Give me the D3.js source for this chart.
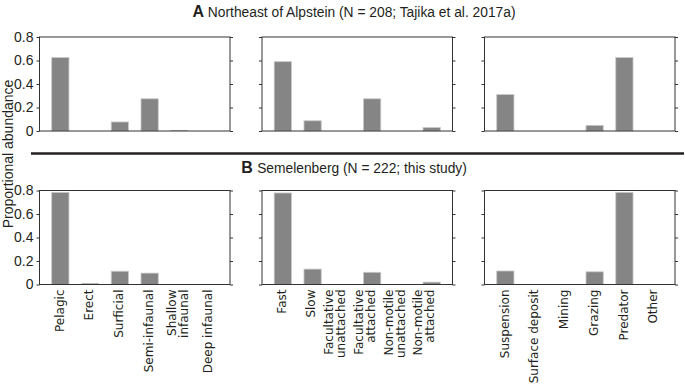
<!DOCTYPE html>
<html>
<head>
<meta charset="utf-8">
<script src="https://cdn.jsdelivr.net/npm/d3@7"></script>
<style>
  body { margin: 0; background: #fff; }
  svg { display: block; }
</style>
</head>
<body>
<div id="chart"></div>
<script>
// categories (\n = line break in the axis label)
const lifeHabit = ["Pelagic", "Erect", "Surficial", "Semi-infaunal", "Shallow\ninfaunal", "Deep infaunal"];
const motility = ["Fast", "Slow", "Facultative\nunattached", "Facultative\nattached", "Non-motile\nunattached", "Non-motile\nattached"];
const feeding = ["Suspension", "Surface deposit", "Mining", "Grazing", "Predator", "Other"];

// proportional abundance, row A (Northeast of Alpstein)
const alpsteinHabit = [0.625, 0, 0.077, 0.274, 0.005, 0];
const alpsteinMotility = [0.59, 0.087, 0, 0.274, 0, 0.029];
const alpsteinFeeding = [0.31, 0, 0, 0.048, 0.625, 0];

// row B (Semelenberg)
const semelHabit = [0.784, 0.009, 0.113, 0.097, 0, 0];
const semelMotility = [0.779, 0.131, 0, 0.104, 0, 0.02];
const semelFeeding = [0.115, 0, 0, 0.108, 0.784, 0];

const yTicks = [0, 0.2, 0.4, 0.6, 0.8];
const rowTitles = [
    { key: "A", text: "Northeast of Alpstein (N = 208; Tajika et al. 2017a)" },
    { key: "B", text: "Semelenberg (N = 222; this study)" }
];

var width = 685,
    height = 386;

var panelLeft = [39.5, 262, 484.5],
    panelWidth = 190.5,
    rowTop = [37, 190.5],
    panelHeight = 94;

var svg = d3.select("#chart").append("svg")
    .attr("width", width)
    .attr("height", height);

var rows = [
    [alpsteinHabit, alpsteinMotility, alpsteinFeeding],
    [semelHabit, semelMotility, semelFeeding]
];
var cats = [lifeHabit, motility, feeding];

var tickFont = "'Liberation Sans', Arial, sans-serif";
var labelFont = "'DejaVu Sans', Verdana, sans-serif";

rows.forEach(function(row, r) {
    var y = d3.scaleLinear()
        .domain([0, 0.8])
        .range([rowTop[r] + panelHeight, rowTop[r]]);

    row.forEach(function(values, p) {
        var x = d3.scaleBand()
            .domain(cats[p])
            .range([panelLeft[p], panelLeft[p] + panelWidth])
            .paddingInner(0.42)
            .paddingOuter(0.41);

        var g = svg.append("g").attr("class", "panel");

        g.selectAll(".bar")
            .data(values.map(function(v, i) { return { cat: cats[p][i], value: v }; }))
            .enter().append("rect")
            .attr("class", "bar")
            .attr("x", d => x(d.cat))
            .attr("width", x.bandwidth())
            .attr("y", d => y(d.value))
            .attr("height", d => y(0) - y(d.value))
            .style("fill", "#858585")
            .style("stroke", d => d.value > 0.015 ? "#c9c9c9" : "none")
            .style("stroke-width", 0.8);

        // left and right axes, ticks outward
        var left = g.append("g")
            .attr("transform", "translate(" + panelLeft[p] + ",0)")
            .call(d3.axisLeft(y).tickValues(yTicks).tickSize(3).tickPadding(3)
                .tickFormat(d => p === 0 ? (d === 0 ? "0" : d3.format(".1f")(d)) : ""));
        var right = g.append("g")
            .attr("transform", "translate(" + (panelLeft[p] + panelWidth) + ",0)")
            .call(d3.axisRight(y).tickValues(yTicks).tickSize(3).tickFormat(""));

        [left, right].forEach(function(a) {
            a.select(".domain").remove();
            a.selectAll(".tick line").style("stroke", "#333");
            a.selectAll("text")
                .style("font-family", tickFont)
                .style("font-size", "14px")
                .style("fill", "#231f20");
        });

        g.append("rect")
            .attr("x", panelLeft[p])
            .attr("y", rowTop[r])
            .attr("width", panelWidth)
            .attr("height", panelHeight)
            .style("fill", "none")
            .style("stroke", "#333")
            .style("stroke-width", 1);

        // category labels only under the bottom row
        if (r === 1) {
            var lbl = g.selectAll(".xlabel")
                .data(cats[p])
                .enter().append("text")
                .attr("class", "xlabel")
                .attr("transform", d => "translate(" + (x(d) + x.bandwidth() / 2) + "," + (y(0) + 5) + ") rotate(-90)")
                .style("text-anchor", "end")
                .style("font-family", labelFont)
                .style("font-size", "12px")
                .style("fill", "#231f20");

            lbl.each(function(d) {
                var lines = d.split("\n");
                var t = d3.select(this);
                var shift = p === 1 ? -1.5 : -1;
                var start = lines.length === 1 ? 0.35 : (p === 1 ? -0.65 : -0.2);
                lines.forEach(function(line, k) {
                    t.append("tspan")
                        .attr("x", 0)
                        .attr("y", shift)
                        .attr("dy", (start + k * 1.0) + "em")
                        .text(line);
                });
            });
        }
    });
});

// row titles
var titleY = [17, 173];
rowTitles.forEach(function(t, r) {
    var title = svg.append("text")
        .attr("x", 354)
        .attr("y", titleY[r])
        .style("text-anchor", "middle")
        .style("fill", "#231f20");
    title.append("tspan")
        .style("font-family", "'Liberation Sans', Arial, sans-serif")
        .style("font-weight", "bold")
        .style("font-size", "16px")
        .text(t.key + " ");
    title.append("tspan")
        .style("font-family", "'Liberation Sans', Arial, sans-serif")
        .style("font-size", "13.8px")
        .text(t.text);
});

// separator between rows
svg.append("line")
    .attr("x1", 31)
    .attr("x2", 684)
    .attr("y1", 153.5)
    .attr("y2", 153.5)
    .style("stroke", "#231f20")
    .style("stroke-width", 2.6);

// shared y label
svg.append("text")
    .attr("transform", "translate(13,154) rotate(-90)")
    .style("text-anchor", "middle")
    .style("font-family", tickFont)
    .style("font-size", "14px")
    .style("fill", "#231f20")
    .text("Proportional abundance");
</script>
</body>
</html>
